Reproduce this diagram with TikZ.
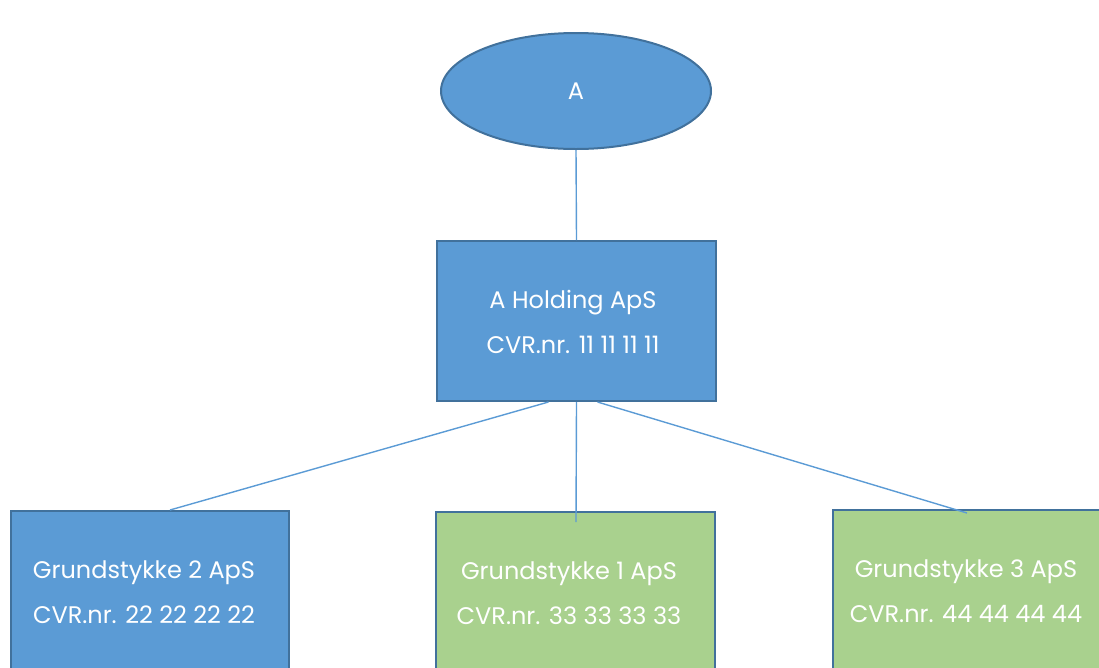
\documentclass[tikz,border=0pt]{standalone}
\usepackage{fontspec}
\setmainfont{Poppins}
\usetikzlibrary{shapes.geometric,calc}
\definecolor{fillblue}{HTML}{5B9BD5}
\definecolor{fillgreen}{HTML}{A9D18E}
\definecolor{edgeblue}{HTML}{41719C}
\tikzset{
  unitbox/.style={rectangle, draw=edgeblue, line width=2pt, inner sep=0pt},
  bluebox/.style={unitbox, fill=fillblue},
  greenbox/.style={unitbox, fill=fillgreen},
  owner/.style={ellipse, draw=edgeblue, line width=2pt, fill=fillblue, inner sep=0pt,
    minimum width=270pt, minimum height=116pt},
  txt/.style={text=white, align=center, font=\fontsize{24}{45}\selectfont, inner sep=0pt},
  link/.style={draw=fillblue, line width=1.4pt}
}
\begin{document}
\begin{tikzpicture}[x=1pt, y=-1pt]
  \useasboundingbox (0,0) rectangle (1099,667);
  \clip (0,0) rectangle (1099,667);

  % owner and holding company
  \node[owner] (a) at (576,91) {};
  \node[txt] (at) at (576,91) {A};
  \node[bluebox, minimum width=279pt, minimum height=160pt] (hold) at (576.5,321) {};
  \node[txt] (holdt) at (573,322) {A Holding ApS\\CVR.nr. 11 11 11 11};

  % subsidiaries (boxes run past the lower edge)
  \node[bluebox, minimum width=278pt, minimum height=200pt] (g2) at (150,611) {};
  \node[greenbox, minimum width=279pt, minimum height=200pt] (g1) at (575.5,612) {};
  \node[greenbox, minimum width=278pt, minimum height=200pt] (g3) at (972,610) {};

  % connectors
  \draw[link] (a.south) -- (hold.north);
  \draw[link] ($(hold.south)+(-28,0)$) -- ($(g2.north)+(20,0)$);
  \draw[link] (hold.south) -- ($(g1.north)+(0.5,11)$);
  \draw[link] ($(hold.south)+(21,0)$) -- ($(g3.north)+(-5,4)$);

  \node[txt] (g2t) at (144,592) {Grundstykke 2 ApS\\CVR.nr. 22 22 22 22};
  \node[txt] (g1t) at (569,593) {Grundstykke 1 ApS\\CVR.nr. 33 33 33 33};
  \node[txt] (g3t) at (966,591) {Grundstykke 3 ApS\\CVR.nr. 44 44 44 44};
\end{tikzpicture}
\end{document}
